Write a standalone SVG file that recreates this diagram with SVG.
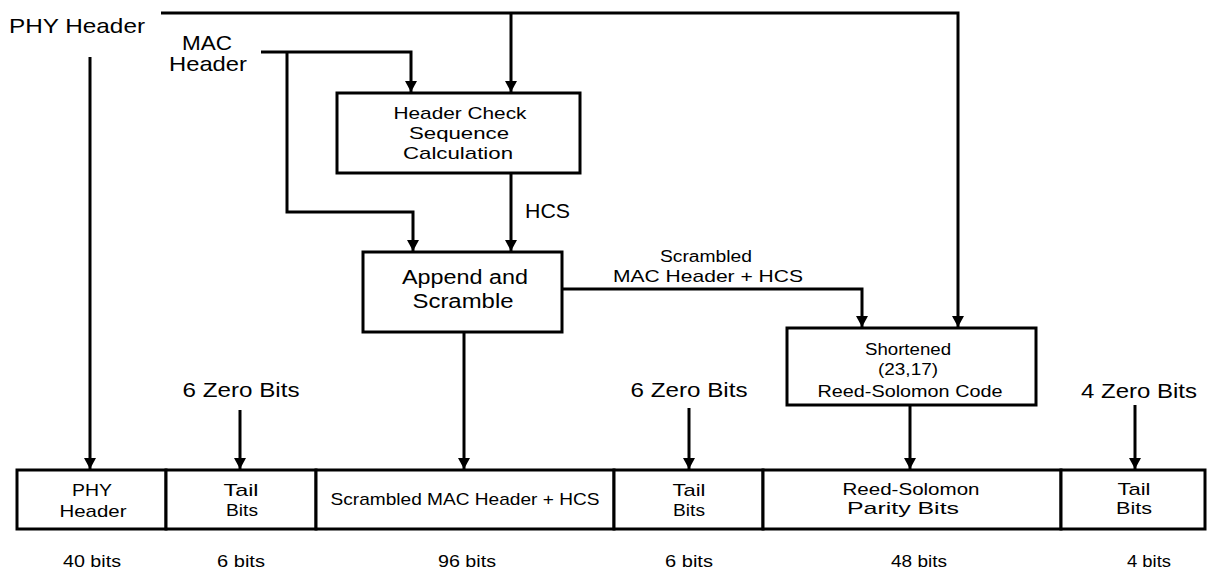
<svg xmlns="http://www.w3.org/2000/svg" width="1208" height="573" viewBox="0 0 1208 573">
<style>
text{font-family:"Liberation Sans",Arial,sans-serif;fill:#000;}
.c{text-anchor:middle;}
.box{fill:#fff;stroke:#000;stroke-width:3;}
.ln{fill:none;stroke:#000;stroke-width:3;}
.arr{marker-end:url(#ah);}
</style>
<defs>
<marker id="ah" markerUnits="userSpaceOnUse" markerWidth="14" markerHeight="14" refX="11" refY="6" orient="auto">
<path d="M0,0 L11,6 L0,12 z" fill="#000"/>
</marker>
</defs>
<g id="inputs">
<text x="9" y="33" font-size="21" textLength="136" lengthAdjust="spacingAndGlyphs">PHY Header</text>
<text class="c" x="207" y="50" font-size="21" textLength="50" lengthAdjust="spacingAndGlyphs">MAC</text>
<text class="c" x="208" y="71" font-size="21" textLength="78" lengthAdjust="spacingAndGlyphs">Header</text>
</g>
<g id="connectors">
<polyline class="ln arr" points="161,13 958,13 958,327"/>
<line class="ln arr" x1="511" y1="13" x2="511" y2="92"/>
<polyline class="ln arr" points="261,52 411,52 411,92"/>
<polyline class="ln arr" points="287,52 287,212 413,212 413,251"/>
<line class="ln arr" x1="511" y1="173" x2="511" y2="251"/>
<line class="ln arr" x1="90" y1="57" x2="90" y2="469"/>
<line class="ln arr" x1="464" y1="332" x2="464" y2="469"/>
<polyline class="ln arr" points="562,289 862,289 862,327"/>
<line class="ln arr" x1="910" y1="405" x2="910" y2="469"/>
<line class="ln arr" x1="240" y1="410" x2="240" y2="469"/>
<line class="ln arr" x1="689" y1="408" x2="689" y2="469"/>
<line class="ln arr" x1="1135" y1="405" x2="1135" y2="469"/>
<text x="525" y="218" font-size="20" textLength="45" lengthAdjust="spacingAndGlyphs">HCS</text>
<text class="c" x="706" y="262" font-size="16" textLength="92" lengthAdjust="spacingAndGlyphs">Scrambled</text>
<text class="c" x="708" y="282" font-size="17" textLength="190" lengthAdjust="spacingAndGlyphs">MAC Header + HCS</text>
<text class="c" x="241" y="397" font-size="21" textLength="117" lengthAdjust="spacingAndGlyphs">6 Zero Bits</text>
<text class="c" x="689" y="397" font-size="21" textLength="117" lengthAdjust="spacingAndGlyphs">6 Zero Bits</text>
<text class="c" x="1139" y="398" font-size="21" textLength="116" lengthAdjust="spacingAndGlyphs">4 Zero Bits</text>
</g>
<g id="hcs-calc">
<rect class="box" x="337" y="93" width="243" height="80"/>
<text class="c" x="460" y="119" font-size="17" textLength="133" lengthAdjust="spacingAndGlyphs">Header Check</text>
<text class="c" x="459" y="139" font-size="17" textLength="100" lengthAdjust="spacingAndGlyphs">Sequence</text>
<text class="c" x="458" y="159" font-size="17" textLength="110" lengthAdjust="spacingAndGlyphs">Calculation</text>
</g>
<g id="append-scramble">
<rect class="box" x="363" y="252" width="199" height="80"/>
<text class="c" x="465" y="284" font-size="20" textLength="126" lengthAdjust="spacingAndGlyphs">Append and</text>
<text class="c" x="463" y="308" font-size="20" textLength="101" lengthAdjust="spacingAndGlyphs">Scramble</text>
</g>
<g id="rs-code">
<rect class="box" x="787" y="328" width="249" height="77"/>
<text class="c" x="908" y="355" font-size="16" textLength="86" lengthAdjust="spacingAndGlyphs">Shortened</text>
<text class="c" x="908" y="375" font-size="16" textLength="60" lengthAdjust="spacingAndGlyphs">(23,17)</text>
<text class="c" x="910" y="397" font-size="17" textLength="185" lengthAdjust="spacingAndGlyphs">Reed-Solomon Code</text>
</g>
<g id="field-phy">
<rect class="box" x="17" y="470" width="149" height="59"/>
<text class="c" x="92" y="496" font-size="17" textLength="40" lengthAdjust="spacingAndGlyphs">PHY</text>
<text class="c" x="93" y="517" font-size="17" textLength="67" lengthAdjust="spacingAndGlyphs">Header</text>
</g>
<g id="field-tail1">
<rect class="box" x="166" y="470" width="150" height="59"/>
<text class="c" x="241" y="496" font-size="17" textLength="35" lengthAdjust="spacingAndGlyphs">Tail</text>
<text class="c" x="242" y="516" font-size="17" textLength="32" lengthAdjust="spacingAndGlyphs">Bits</text>
</g>
<g id="field-mac">
<rect class="box" x="316" y="470" width="298" height="59"/>
<text class="c" x="465" y="505" font-size="17" textLength="269" lengthAdjust="spacingAndGlyphs">Scrambled MAC Header + HCS</text>
</g>
<g id="field-tail2">
<rect class="box" x="614" y="470" width="149" height="59"/>
<text class="c" x="689" y="496" font-size="17" textLength="33" lengthAdjust="spacingAndGlyphs">Tail</text>
<text class="c" x="689" y="516" font-size="17" textLength="32" lengthAdjust="spacingAndGlyphs">Bits</text>
</g>
<g id="field-parity">
<rect class="box" x="763" y="470" width="298" height="59"/>
<text class="c" x="911" y="495" font-size="17" textLength="137" lengthAdjust="spacingAndGlyphs">Reed-Solomon</text>
<text class="c" x="903" y="514" font-size="17" textLength="112" lengthAdjust="spacingAndGlyphs">Parity Bits</text>
</g>
<g id="field-tail3">
<rect class="box" x="1061" y="470" width="144" height="59"/>
<text class="c" x="1134" y="495" font-size="17" textLength="33" lengthAdjust="spacingAndGlyphs">Tail</text>
<text class="c" x="1134" y="514" font-size="17" textLength="36" lengthAdjust="spacingAndGlyphs">Bits</text>
</g>
<g id="sizes">
<text class="c" x="92" y="567" font-size="17" textLength="58" lengthAdjust="spacingAndGlyphs">40 bits</text>
<text class="c" x="241" y="567" font-size="17" textLength="48" lengthAdjust="spacingAndGlyphs">6 bits</text>
<text class="c" x="467" y="567" font-size="17" textLength="58" lengthAdjust="spacingAndGlyphs">96 bits</text>
<text class="c" x="689" y="567" font-size="17" textLength="48" lengthAdjust="spacingAndGlyphs">6 bits</text>
<text class="c" x="919" y="567" font-size="17" textLength="56" lengthAdjust="spacingAndGlyphs">48 bits</text>
<text class="c" x="1149" y="567" font-size="17" textLength="44" lengthAdjust="spacingAndGlyphs">4 bits</text>
</g>
</svg>
